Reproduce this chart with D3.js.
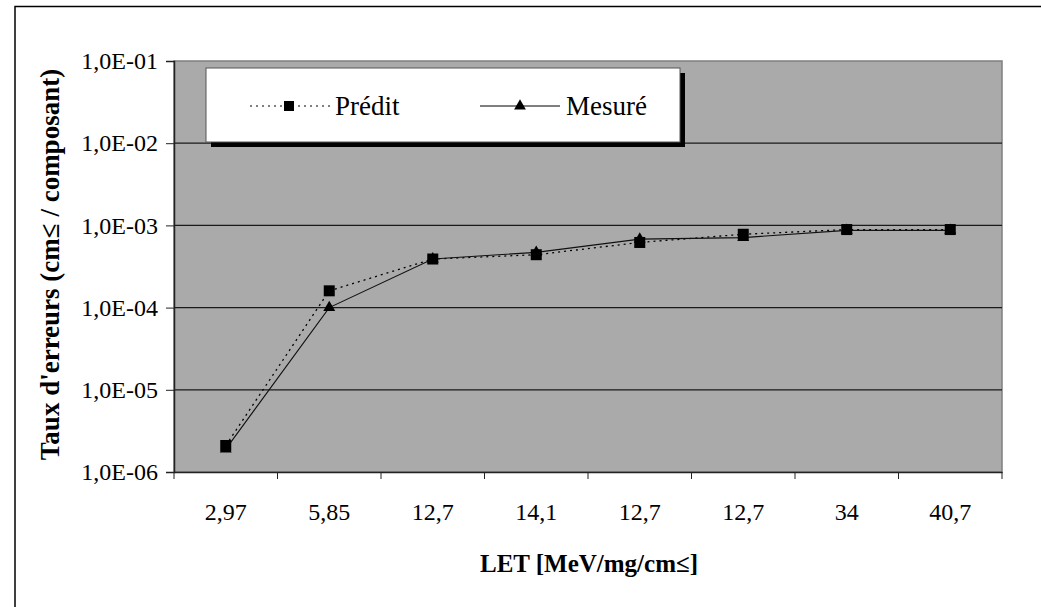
<!DOCTYPE html>
<html>
<head>
<meta charset="utf-8">
<script src="https://cdn.jsdelivr.net/npm/d3@7"></script>
<style>
    body { margin: 0; background: #ffffff; }
    svg { display: block; }
    text { font-family: "Liberation Serif", serif; }
</style>
</head>
<body>
<svg class="chart"></svg>
<script>
var categories = ["2,97", "5,85", "12,7", "14,1", "12,7", "12,7", "34", "40,7"];
var preditValues = [2.1e-6, 1.6e-4, 3.9e-4, 4.4e-4, 6.2e-4, 7.8e-4, 8.9e-4, 8.9e-4];
var mesureValues = [1.9e-6, 1.0e-4, 3.9e-4, 4.7e-4, 6.8e-4, 7.1e-4, 8.7e-4, 8.7e-4];
var yTickValues = [1e-6, 1e-5, 1e-4, 1e-3, 1e-2, 1e-1];
var yTickLabels = ["1,0E-06", "1,0E-05", "1,0E-04", "1,0E-03", "1,0E-02", "1,0E-01"];

var chart, xRange, yRange, innerSize, margin;
var serif = "'Liberation Serif', 'Times New Roman', serif";

initChart();
drawSeries();
drawLegend();

function initChart() {
    var outerSize = {width: 1041, height: 607};
    margin = {top: 61, left: 174, right: 39, bottom: 135};
    innerSize = {width: outerSize.width - margin.left - margin.right,
        height: outerSize.height - margin.top - margin.bottom};

    var svg = d3.select(".chart")
            .attr("width", outerSize.width)
            .attr("height", outerSize.height);

    // outer frame, only left and top edges are visible in the picture
    svg.append("path")
            .attr("d", "M15,607 L15,6.5 L1041,6.5")
            .attr("fill", "none")
            .attr("stroke", "#000")
            .attr("stroke-width", 1.5);

    chart = svg.append("g")
            .attr("transform", "translate(" + margin.left + "," + margin.top + ")");

    xRange = d3.scaleBand()
            .domain(d3.range(categories.length))
            .range([0, innerSize.width]);

    yRange = d3.scaleLog()
            .domain([1e-6, 1e-1])
            .range([innerSize.height, 0]);

    chart.append("rect")
            .attr("width", innerSize.width)
            .attr("height", innerSize.height)
            .attr("fill", "#aaaaaa")
            .attr("stroke", "#7f7f7f")
            .attr("stroke-width", 1.5);

    chart.selectAll(".grid")
            .data(yTickValues.slice(1, -1))
            .enter().append("line")
            .attr("class", "grid")
            .attr("x1", 0)
            .attr("x2", innerSize.width)
            .attr("y1", function (v) { return yRange(v); })
            .attr("y2", function (v) { return yRange(v); })
            .attr("stroke", "#1a1a1a")
            .attr("stroke-width", 1.2);

    var xAxis = chart.append("g")
            .attr("transform", "translate(0," + innerSize.height + ")")
            .call(d3.axisBottom(xRange).tickSize(0).tickFormat(function (i) { return categories[i]; }));
    xAxis.attr("font-family", null);
    xAxis.select(".domain").attr("stroke", "#222").attr("stroke-width", 1.5);
    xAxis.selectAll("text")
            .attr("y", 31)
            .attr("fill", "#000")
            .style("font-size", "24px")
            .style("font-family", serif);
    // tick marks sit between the categories
    xAxis.selectAll(".sep")
            .data(d3.range(categories.length + 1))
            .enter().append("line")
            .attr("class", "sep")
            .attr("x1", function (i) { return i * xRange.bandwidth(); })
            .attr("x2", function (i) { return i * xRange.bandwidth(); })
            .attr("y1", 0)
            .attr("y2", 7)
            .attr("stroke", "#222");

    var yAxis = chart.append("g")
            .call(d3.axisLeft(yRange)
                    .tickValues(yTickValues)
                    .tickSize(8)
                    .tickPadding(8)
                    .tickFormat(function (v, i) { return yTickLabels[i]; }));
    yAxis.attr("font-family", null);
    yAxis.select(".domain").attr("stroke", "#222").attr("stroke-width", 1.5);
    yAxis.selectAll("line").attr("stroke", "#222");
    yAxis.selectAll("text")
            .attr("fill", "#000")
            .style("font-size", "24px")
            .style("font-family", serif);

    svg.append("text")
            .attr("x", 589)
            .attr("y", 572)
            .style("text-anchor", "middle")
            .style("font-family", serif)
            .style("font-size", "25px")
            .style("font-weight", "bold")
            .text("LET [MeV/mg/cm\u2264]");

    svg.append("text")
            .attr("transform", "translate(59," + (margin.top + innerSize.height / 2 - 2) + ") rotate(-90)")
            .style("text-anchor", "middle")
            .style("font-family", serif)
            .style("font-size", "27px")
            .style("font-weight", "bold")
            .text("Taux d'erreurs (cm\u2264 / composant)");
}

function drawSeries() {
    var line = d3.line()
            .x(function (v, i) { return xRange(i) + xRange.bandwidth() / 2; })
            .y(function (v) { return yRange(v); });

    chart.append("path")
            .datum(preditValues)
            .attr("d", line)
            .attr("fill", "none")
            .attr("stroke", "#000")
            .attr("stroke-width", 1.3)
            .attr("stroke-dasharray", "2,4");

    chart.append("path")
            .datum(mesureValues)
            .attr("d", line)
            .attr("fill", "none")
            .attr("stroke", "#111")
            .attr("stroke-width", 1.1);

    chart.selectAll(".tri")
            .data(mesureValues)
            .enter().append("path")
            .attr("class", "tri")
            .attr("d", d3.symbol(d3.symbolTriangle, 62))
            .attr("transform", function (v, i) {
                return "translate(" + (xRange(i) + xRange.bandwidth() / 2) + "," + yRange(v) + ")";
            })
            .attr("fill", "#000");

    chart.selectAll(".sq")
            .data(preditValues)
            .enter().append("rect")
            .attr("class", "sq")
            .attr("x", function (v, i) { return xRange(i) + xRange.bandwidth() / 2 - 5.5; })
            .attr("y", function (v) { return yRange(v) - 5.5; })
            .attr("width", 11)
            .attr("height", 11)
            .attr("fill", "#000");
}

function drawLegend() {
    var svg = d3.select(".chart");
    var legend = svg.append("g").attr("transform", "translate(206,68)");

    legend.append("rect")
            .attr("x", 5).attr("y", 5)
            .attr("width", 474).attr("height", 74)
            .attr("fill", "#000");
    legend.append("rect")
            .attr("width", 474).attr("height", 74)
            .attr("fill", "#fff")
            .attr("stroke", "#555")
            .attr("stroke-width", 1);

    legend.append("line")
            .attr("x1", 44).attr("x2", 124).attr("y1", 38).attr("y2", 38)
            .attr("stroke", "#000").attr("stroke-dasharray", "2,4");
    legend.append("rect")
            .attr("x", 78).attr("y", 33).attr("width", 10).attr("height", 10)
            .attr("fill", "#000");
    legend.append("text")
            .attr("x", 129).attr("y", 47)
            .style("font-family", serif)
            .style("font-size", "27px")
            .text("Prédit");

    legend.append("line")
            .attr("x1", 274).attr("x2", 354).attr("y1", 38).attr("y2", 38)
            .attr("stroke", "#000");
    legend.append("path")
            .attr("d", d3.symbol(d3.symbolTriangle, 60))
            .attr("transform", "translate(314,38)")
            .attr("fill", "#000");
    legend.append("text")
            .attr("x", 360).attr("y", 47)
            .style("font-family", serif)
            .style("font-size", "27px")
            .text("Mesuré");
}
</script>
</body>
</html>
